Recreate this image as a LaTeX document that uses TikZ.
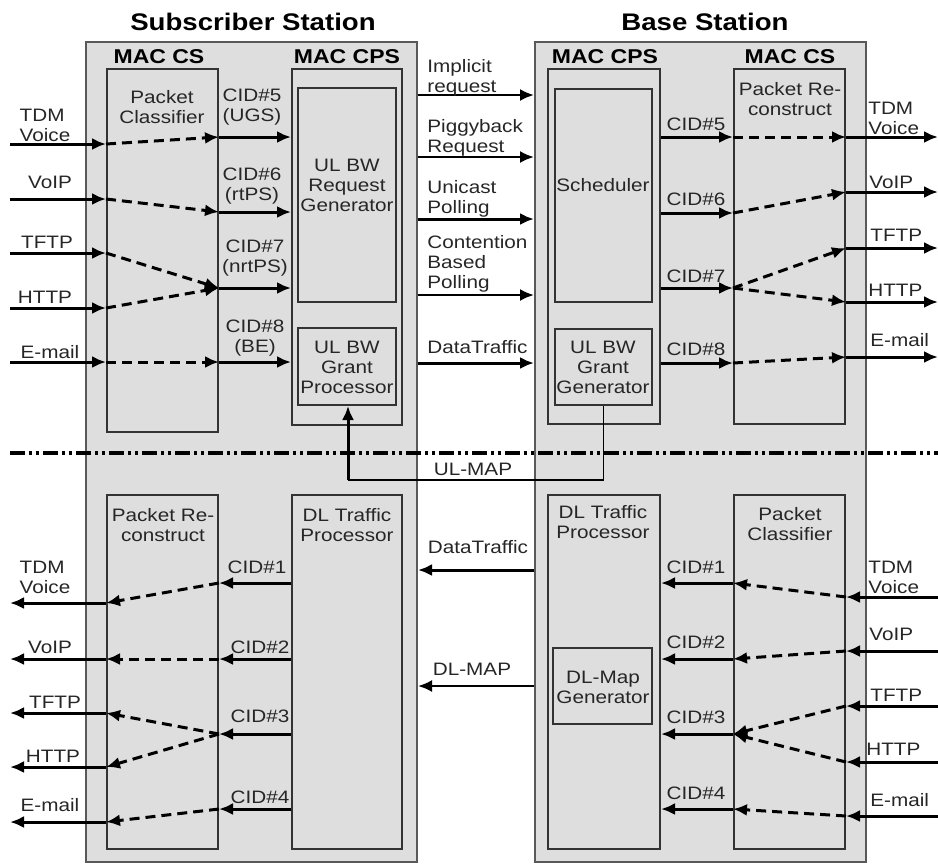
\documentclass[tikz,border=0pt]{standalone}
\usepackage{fontspec}
\setmainfont{Liberation Sans}[FakeStretch=1.15]
\usetikzlibrary{arrows.meta,fit}
\definecolor{boxfill}{gray}{0.87}

\begin{document}
\begin{tikzpicture}[
  x=0.5pt, y=-0.5pt,
  every node/.style={font=\fontsize{9}{10}\selectfont, text=black!85},
  box/.style={draw=black!80, fill=boxfill, line width=1pt, inner sep=0pt},
  lbl/.style={align=center, inner sep=0pt},
  stationtitle/.style={font=\fontsize{12}{14}\selectfont\bfseries, text=black},
  cslabel/.style={font=\fontsize{10}{12}\selectfont\bfseries, text=black},
  flow/.style={line width=1.5pt, -{Latex[length=7pt,width=6pt]}},
  dflow/.style={flow, dash pattern=on 5pt off 3pt},
  msg/.style={line width=1.1pt, -{Latex[length=7pt,width=6pt]}},
]
\useasboundingbox (0,0) rectangle (938,864);
% Stations
\node[box, draw=black!65, fit={(86,42) (417,862)}] (ss) {};
\node[box, draw=black!65, fit={(535,42) (866,862)}] (bs) {};
\node[stationtitle] (ssTitle) at (253,22) {Subscriber Station};
\node[stationtitle] (bsTitle) at (705,22) {Base Station};
\node[cslabel] (ssCSlbl) at (159,57) {MAC CS};
\node[cslabel] (ssCPSlbl) at (347,57) {MAC CPS};
\node[cslabel] (bsCPSlbl) at (605,57) {MAC CPS};
\node[cslabel] (bsCSlbl) at (790,57) {MAC CS};
% SS uplink blocks
\node[box, fit={(107,69) (218,432)}] (ssPC) {};
\node[box, fit={(292,69) (402,425)}] (ssCPS) {};
\node[box, fit={(298,88) (396,302)}] (ssReq) {};
\node[box, fit={(298,328) (396,405)}] (ssGrant) {};
\node[lbl] (ssPCtxt) at (162,107) {Packet\\Classifier};
\node[lbl] (ssReqtxt) at (347,185) {UL BW\\Request\\Generator};
\node[lbl] (ssGranttxt) at (347,367) {UL BW\\Grant\\Processor};
% BS uplink blocks
\node[box, fit={(548,69) (660,424)}] (bsCPS) {};
\node[box, fit={(555,89) (652,302)}] (bsSched) {};
\node[box, fit={(555,329) (652,405)}] (bsGrant) {};
\node[box, fit={(734,69) (845,424)}] (bsCS) {};
\node[lbl] (bsSchedtxt) at (603,185) {Scheduler};
\node[lbl] (bsGranttxt) at (603,367) {UL BW\\Grant\\Generator};
\node[lbl] (bsCStxt) at (790,99) {Packet Re-\\construct};
% SS downlink blocks
\node[box, fit={(107,495) (218,849)}] (ssRec) {};
\node[box, fit={(292,495) (402,849)}] (ssDL) {};
\node[lbl] (ssRectxt) at (163,525) {Packet Re-\\construct};
\node[lbl] (ssDLtxt) at (347,525) {DL Traffic\\Processor};
% BS downlink blocks
\node[box, fit={(548,495) (660,849)}] (bsDL) {};
\node[box, fit={(553,648) (652,724)}] (bsMap) {};
\node[box, fit={(734,495) (845,849)}] (bsPC) {};
\node[lbl] (bsDLtxt) at (603,522) {DL Traffic\\Processor};
\node[lbl] (bsMaptxt) at (603,687) {DL-Map\\Generator};
\node[lbl] (bsPCtxt) at (790,524) {Packet\\Classifier};

% SS uplink: applications -> classifier -> CPS
\coordinate (sIn1) at (10,144);
\coordinate (sIn2) at (10,199);
\coordinate (sIn3) at (10,253);
\coordinate (sIn4) at (10,308);
\coordinate (sIn5) at (10,362);
\coordinate (sCid5) at (255,137);
\coordinate (sCid6) at (255,212);
\coordinate (sCid7) at (255,288);
\coordinate (sCid8) at (255,362);
\draw[flow] (sIn1) -- (sIn1 -| ssPC.west);
\draw[flow] (sIn2) -- (sIn2 -| ssPC.west);
\draw[flow] (sIn3) -- (sIn3 -| ssPC.west);
\draw[flow] (sIn4) -- (sIn4 -| ssPC.west);
\draw[flow] (sIn5) -- (sIn5 -| ssPC.west);
\draw[dflow] (sIn1 -| ssPC.west) -- (sCid5 -| ssPC.east);
\draw[dflow] (sIn2 -| ssPC.west) -- (sCid6 -| ssPC.east);
\draw[dflow] (sIn3 -| ssPC.west) -- (sCid7 -| ssPC.east);
\draw[dflow] (sIn4 -| ssPC.west) -- (sCid7 -| ssPC.east);
\draw[dflow] (sIn5 -| ssPC.west) -- (sCid8 -| ssPC.east);
\draw[flow] (sCid5 -| ssPC.east) -- (sCid5 -| ssCPS.west);
\draw[flow] (sCid6 -| ssPC.east) -- (sCid6 -| ssCPS.west);
\draw[flow] (sCid7 -| ssPC.east) -- (sCid7 -| ssCPS.west);
\draw[flow] (sCid8 -| ssPC.east) -- (sCid8 -| ssCPS.west);
\node[lbl, align=left] (sInL1) at (45,125) {TDM\\Voice};
\node[lbl] (sInL2) at (50,182) {VoIP};
\node[lbl] (sInL3) at (47,242) {TFTP};
\node[lbl] (sInL4) at (45,297) {HTTP};
\node[lbl] (sInL5) at (50,352) {E-mail};
\node[lbl] (sCidL5) at (252,107) {CID\#5\\(UGS)};
\node[lbl] (sCidL6) at (252,186) {CID\#6\\(rtPS)};
\node[lbl] (sCidL7) at (255,258) {CID\#7\\(nrtPS)};
\node[lbl] (sCidL8) at (255,338) {CID\#8\\(BE)};

% BS uplink: CPS -> reconstruct -> applications
\coordinate (bOut1) at (938,137);
\coordinate (bOut2) at (938,192);
\coordinate (bOut3) at (938,248);
\coordinate (bOut4) at (938,302);
\coordinate (bOut5) at (938,357);
\coordinate (bCid5) at (696,137);
\coordinate (bCid6) at (696,213);
\coordinate (bCid7) at (696,288);
\coordinate (bCid8) at (696,363);
\draw[flow] (bCid5 -| bsCPS.east) -- (bCid5 -| bsCS.west);
\draw[flow] (bCid6 -| bsCPS.east) -- (bCid6 -| bsCS.west);
\draw[flow] (bCid7 -| bsCPS.east) -- (bCid7 -| bsCS.west);
\draw[flow] (bCid8 -| bsCPS.east) -- (bCid8 -| bsCS.west);
\draw[dflow] (bCid5 -| bsCS.west) -- (bOut1 -| bsCS.east);
\draw[dflow] (bCid6 -| bsCS.west) -- (bOut2 -| bsCS.east);
\draw[dflow] (bCid7 -| bsCS.west) -- (bOut3 -| bsCS.east);
\draw[dflow] (bCid7 -| bsCS.west) -- (bOut4 -| bsCS.east);
\draw[dflow] (bCid8 -| bsCS.west) -- (bOut5 -| bsCS.east);
\draw[flow] (bOut1 -| bsCS.east) -- (bOut1);
\draw[flow] (bOut2 -| bsCS.east) -- (bOut2);
\draw[flow] (bOut3 -| bsCS.east) -- (bOut3);
\draw[flow] (bOut4 -| bsCS.east) -- (bOut4);
\draw[flow] (bOut5 -| bsCS.east) -- (bOut5);
\node[lbl, align=left, anchor=west] (bOutL1) at (868,118) {TDM\\Voice};
\node[lbl, anchor=west] (bOutL2) at (869,182) {VoIP};
\node[lbl, anchor=west] (bOutL3) at (870,235) {TFTP};
\node[lbl, anchor=west] (bOutL4) at (868,290) {HTTP};
\node[lbl, anchor=west] (bOutL5) at (870,340) {E-mail};
\node[lbl] (bCidL5) at (696,124) {CID\#5};
\node[lbl] (bCidL6) at (696,199) {CID\#6};
\node[lbl] (bCidL7) at (696,276) {CID\#7};
\node[lbl] (bCidL8) at (696,349) {CID\#8};

% Uplink messages SS -> BS
\coordinate (mImp) at (475,95);
\coordinate (mPig) at (475,157);
\coordinate (mUni) at (475,219);
\coordinate (mCon) at (475,295);
\coordinate (mDat) at (475,363);
\draw[msg] (mImp -| ss.east) -- (mImp -| bs.west);
\draw[msg] (mPig -| ss.east) -- (mPig -| bs.west);
\draw[msg, line width=1.5pt] (mUni -| ss.east) -- (mUni -| bs.west);
\draw[msg] (mCon -| ss.east) -- (mCon -| bs.west);
\draw[msg, line width=1.5pt] (mDat -| ss.east) -- (mDat -| bs.west);
\node[lbl, align=left, anchor=west] (mImpL) at (427,78) {Implicit\\request};
\node[lbl, align=left, anchor=west] (mPigL) at (427,138) {Piggyback\\Request};
\node[lbl, align=left, anchor=west] (mUniL) at (427,199) {Unicast\\Polling};
\node[lbl, align=left, anchor=west] (mConL) at (427,264) {Contention\\Based\\Polling};
\node[lbl, anchor=west] (mDatL) at (427,347) {DataTraffic};

% SS downlink: DL processor -> reconstruct -> applications
\coordinate (sOut1) at (10,603);
\coordinate (sOut2) at (10,659);
\coordinate (sOut3) at (10,713);
\coordinate (sOut4) at (10,767);
\coordinate (sOut5) at (10,822);
\coordinate (sCid1) at (257,583);
\coordinate (sCid2) at (257,659);
\coordinate (sCid3) at (257,734);
\coordinate (sCid4) at (257,809);
\draw[flow] (sCid1 -| ssDL.west) -- (sCid1 -| ssRec.east);
\draw[flow] (sCid2 -| ssDL.west) -- (sCid2 -| ssRec.east);
\draw[flow] (sCid3 -| ssDL.west) -- (sCid3 -| ssRec.east);
\draw[flow] (sCid4 -| ssDL.west) -- (sCid4 -| ssRec.east);
\draw[dflow] (sCid1 -| ssRec.east) -- (sOut1 -| ssRec.west);
\draw[dflow] (sCid2 -| ssRec.east) -- (sOut2 -| ssRec.west);
\draw[dflow] (sCid3 -| ssRec.east) -- (sOut3 -| ssRec.west);
\draw[dflow] (sCid3 -| ssRec.east) -- (sOut4 -| ssRec.west);
\draw[dflow] (sCid4 -| ssRec.east) -- (sOut5 -| ssRec.west);
\draw[flow] (sOut1 -| ssRec.west) -- (sOut1);
\draw[flow] (sOut2 -| ssRec.west) -- (sOut2);
\draw[flow] (sOut3 -| ssRec.west) -- (sOut3);
\draw[flow] (sOut4 -| ssRec.west) -- (sOut4);
\draw[flow] (sOut5 -| ssRec.west) -- (sOut5);
\node[lbl, align=left] (sOutL1) at (45,577) {TDM\\Voice};
\node[lbl] (sOutL2) at (50,647) {VoIP};
\node[lbl] (sOutL3) at (55,702) {TFTP};
\node[lbl] (sOutL4) at (53,756) {HTTP};
\node[lbl] (sOutL5) at (50,805) {E-mail};
\node[lbl] (sCidL1) at (257,567) {CID\#1};
\node[lbl] (sCidL2) at (260,647) {CID\#2};
\node[lbl] (sCidL3) at (260,716) {CID\#3};
\node[lbl] (sCidL4) at (260,797) {CID\#4};

% BS downlink: applications -> classifier -> DL processor
\coordinate (bIn1) at (938,597);
\coordinate (bIn2) at (938,651);
\coordinate (bIn3) at (938,706);
\coordinate (bIn4) at (938,762);
\coordinate (bIn5) at (938,816);
\coordinate (bCid1) at (696,583);
\coordinate (bCid2) at (696,659);
\coordinate (bCid3) at (696,734);
\coordinate (bCid4) at (696,809);
\draw[flow] (bIn1) -- (bIn1 -| bsPC.east);
\draw[flow] (bIn2) -- (bIn2 -| bsPC.east);
\draw[flow] (bIn3) -- (bIn3 -| bsPC.east);
\draw[flow] (bIn4) -- (bIn4 -| bsPC.east);
\draw[flow] (bIn5) -- (bIn5 -| bsPC.east);
\draw[dflow] (bIn1 -| bsPC.east) -- (bCid1 -| bsPC.west);
\draw[dflow] (bIn2 -| bsPC.east) -- (bCid2 -| bsPC.west);
\draw[dflow] (bIn3 -| bsPC.east) -- (bCid3 -| bsPC.west);
\draw[dflow] (bIn4 -| bsPC.east) -- (bCid3 -| bsPC.west);
\draw[dflow] (bIn5 -| bsPC.east) -- (bCid4 -| bsPC.west);
\draw[flow] (bCid1 -| bsPC.west) -- (bCid1 -| bsDL.east);
\draw[flow] (bCid2 -| bsPC.west) -- (bCid2 -| bsDL.east);
\draw[flow] (bCid3 -| bsPC.west) -- (bCid3 -| bsDL.east);
\draw[flow] (bCid4 -| bsPC.west) -- (bCid4 -| bsDL.east);
\node[lbl, align=left, anchor=west] (bInL1) at (868,577) {TDM\\Voice};
\node[lbl, anchor=west] (bInL2) at (869,634) {VoIP};
\node[lbl, anchor=west] (bInL3) at (870,695) {TFTP};
\node[lbl, anchor=west] (bInL4) at (866,749) {HTTP};
\node[lbl, anchor=west] (bInL5) at (870,800) {E-mail};
\node[lbl] (bCidL1) at (696,567) {CID\#1};
\node[lbl] (bCidL2) at (696,642) {CID\#2};
\node[lbl] (bCidL3) at (696,717) {CID\#3};
\node[lbl] (bCidL4) at (696,793) {CID\#4};

% Downlink messages BS -> SS
\coordinate (mDL1) at (475,570);
\coordinate (mDL2) at (475,686);
\draw[msg, line width=1.5pt] (mDL1 -| bs.west) -- (mDL1 -| ss.east);
\draw[msg] (mDL2 -| bs.west) -- (mDL2 -| ss.east);
\node[lbl] (mDL1L) at (478,547) {DataTraffic};
\node[lbl] (mDL2L) at (472,669) {DL-MAP};

% UL / DL separator
\coordinate (sepL) at (10,453);
\coordinate (sepR) at (938,453);
\draw[line width=1.8pt, dash pattern=on 7.5pt off 2pt on 1.5pt off 2pt on 1.5pt off 2pt] (sepL) -- (sepR);

% UL-MAP back to the SS
\coordinate (ulBend) at (348,480);
\draw[line width=0.8pt] (bsGrant.south) |- (ulBend);
\draw[flow] (ulBend) -- (ulBend |- ssGrant.south);
\node[lbl] (ulLbl) at (473,469) {UL-MAP};
\end{tikzpicture}
\end{document}
